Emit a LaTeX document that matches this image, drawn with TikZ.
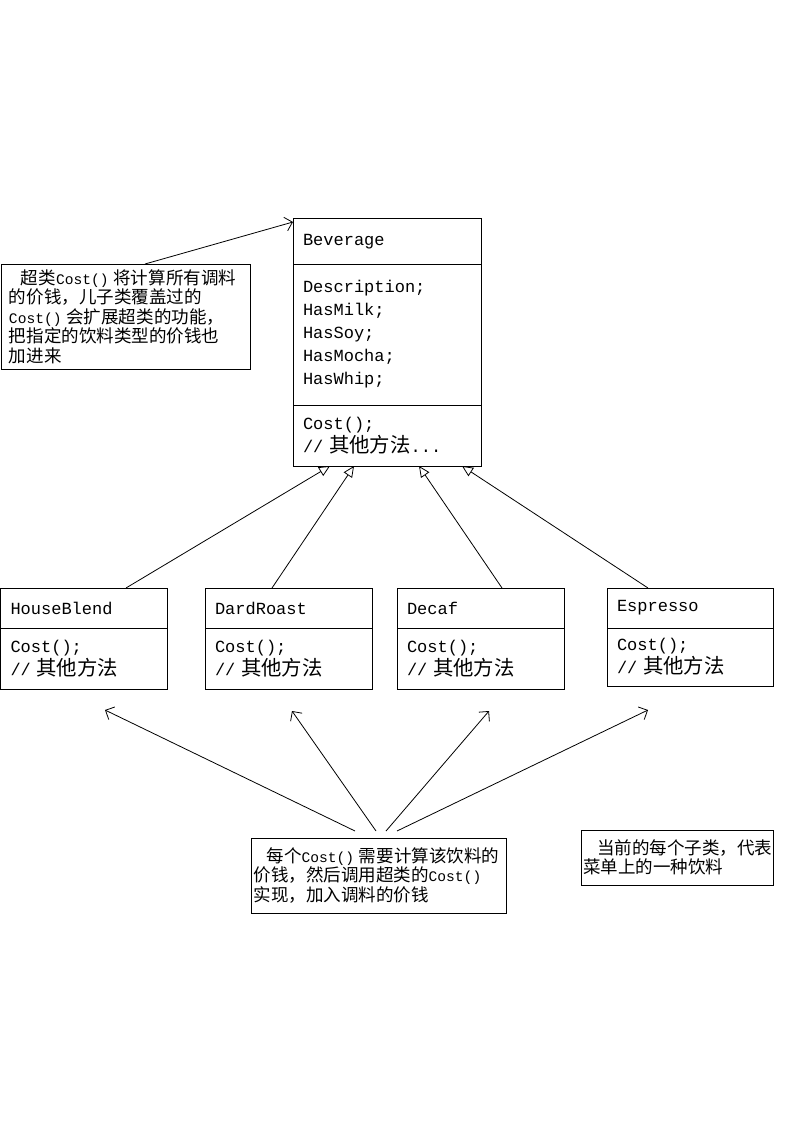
\documentclass[tikz,border=0pt]{standalone}
\usepackage{fontspec}
\setmainfont{Liberation Mono}
\newfontfamily\zhfont[Scale=1.2]{Noto Sans CJK SC}
\newcommand\zh[1]{{\zhfont #1}}
\usetikzlibrary{arrows.meta,positioning}

\tikzset{
  part/.style={draw, line width=1pt, outer sep=0pt, inner xsep=10pt, inner ysep=2pt,
    align=left, font=\fontsize{17}{23}\selectfont},
  bevpart/.style={part, text width=168pt, minimum width=188pt},
  subpart/.style={part, text width=147pt, minimum width=167pt},
  note/.style={draw, line width=1pt, outer sep=0pt, anchor=north west, align=left,
    inner ysep=2pt, font=\fontsize{14.6}{19.5}\selectfont},
  inherit/.style={-{Triangle[open,length=11pt,width=10pt]}, line width=0.8pt},
  pointer/.style={-{Straight Barb[length=7pt,width=14pt]}, line width=0.8pt}
}

\begin{document}
\begin{tikzpicture}[x=1pt, y=-1pt]
\useasboundingbox (0,0) rectangle (794,1123);
% superclass
\node (bevname) [bevpart, anchor=north west, minimum height=45pt] at (293,219) {Beverage};
\node (bevattr) [bevpart, minimum height=141pt, below=0pt of bevname] {Description;\\HasMilk;\\HasSoy;\\HasMocha;\\HasWhip;};
\node (bevops) [bevpart, minimum height=61pt, below=0pt of bevattr] {Cost();\\// \zh{其他方法}...};
% subclasses
\node (hbname) [subpart, anchor=north west, minimum height=40pt] at (0.5,588) {HouseBlend};
\node (hbops) [subpart, minimum height=61pt, below=0pt of hbname] {Cost();\\// \zh{其他方法}};
\node (drname) [subpart, anchor=north west, minimum height=40pt] at (205,588) {DardRoast};
\node (drops) [subpart, minimum height=61pt, below=0pt of drname] {Cost();\\// \zh{其他方法}};
\node (dcname) [subpart, anchor=north west, minimum height=40pt] at (397,588) {Decaf};
\node (dcops) [subpart, minimum height=61pt, below=0pt of dcname] {Cost();\\// \zh{其他方法}};
\node (esname) [subpart, text width=146pt, minimum width=166pt, anchor=north west, minimum height=40pt] at (607,588) {Espresso};
\node (esops) [subpart, text width=146pt, minimum width=166pt, minimum height=58pt, below=0pt of esname] {Cost();\\// \zh{其他方法}};
% notes
\node (note1) [note, inner xsep=8pt, text width=233pt, minimum height=105pt] at (1,264)
  {\hspace*{12pt}\zh{超类}Cost()~\zh{将计算所有调料}\\\zh{的价钱，儿子类覆盖过的}\\Cost()~\zh{会扩展超类的功能，}\\\zh{把指定的饮料类型的价钱也}\\\zh{加进来}};
\node (note2) [note, inner xsep=2.5pt, text width=250pt, minimum height=75pt] at (251,838)
  {\hspace*{13pt}\zh{每个}Cost()~\zh{需要计算该饮料的}\\\zh{价钱，然后调用超类的}Cost()\\\zh{实现，加入调料的价钱}};
\node (note3) [note, inner xsep=2pt, text width=188pt, minimum height=55pt] at (581,830)
  {\hspace*{14pt}\zh{当前的每个子类，代表}\\\zh{菜单上的一种饮料}};
% connectors
\draw[pointer] ([xshift=144pt]note1.north west) -- ([yshift=-3pt]bevname.north west);
\draw[inherit] ([xshift=125.5pt]hbname.north west) -- ([xshift=37pt]bevops.south west);
\draw[inherit] ([xshift=67pt]drname.north west) -- ([xshift=61pt]bevops.south west);
\draw[inherit] ([xshift=105pt]dcname.north west) -- ([xshift=126pt]bevops.south west);
\draw[inherit] ([xshift=41pt]esname.north west) -- ([xshift=169pt]bevops.south west);
\draw[pointer] ([xshift=104pt,yshift=7pt]note2.north west) -- ([xshift=104.5pt,yshift=-21pt]hbops.south west);
\draw[pointer] ([xshift=125pt,yshift=7pt]note2.north west) -- ([xshift=87pt,yshift=-22pt]drops.south west);
\draw[pointer] ([xshift=135pt,yshift=7pt]note2.north west) -- ([xshift=92pt,yshift=-22pt]dcops.south west);
\draw[pointer] ([xshift=146pt,yshift=7pt]note2.north west) -- ([xshift=41pt,yshift=-24pt]esops.south west);
\end{tikzpicture}
\end{document}
